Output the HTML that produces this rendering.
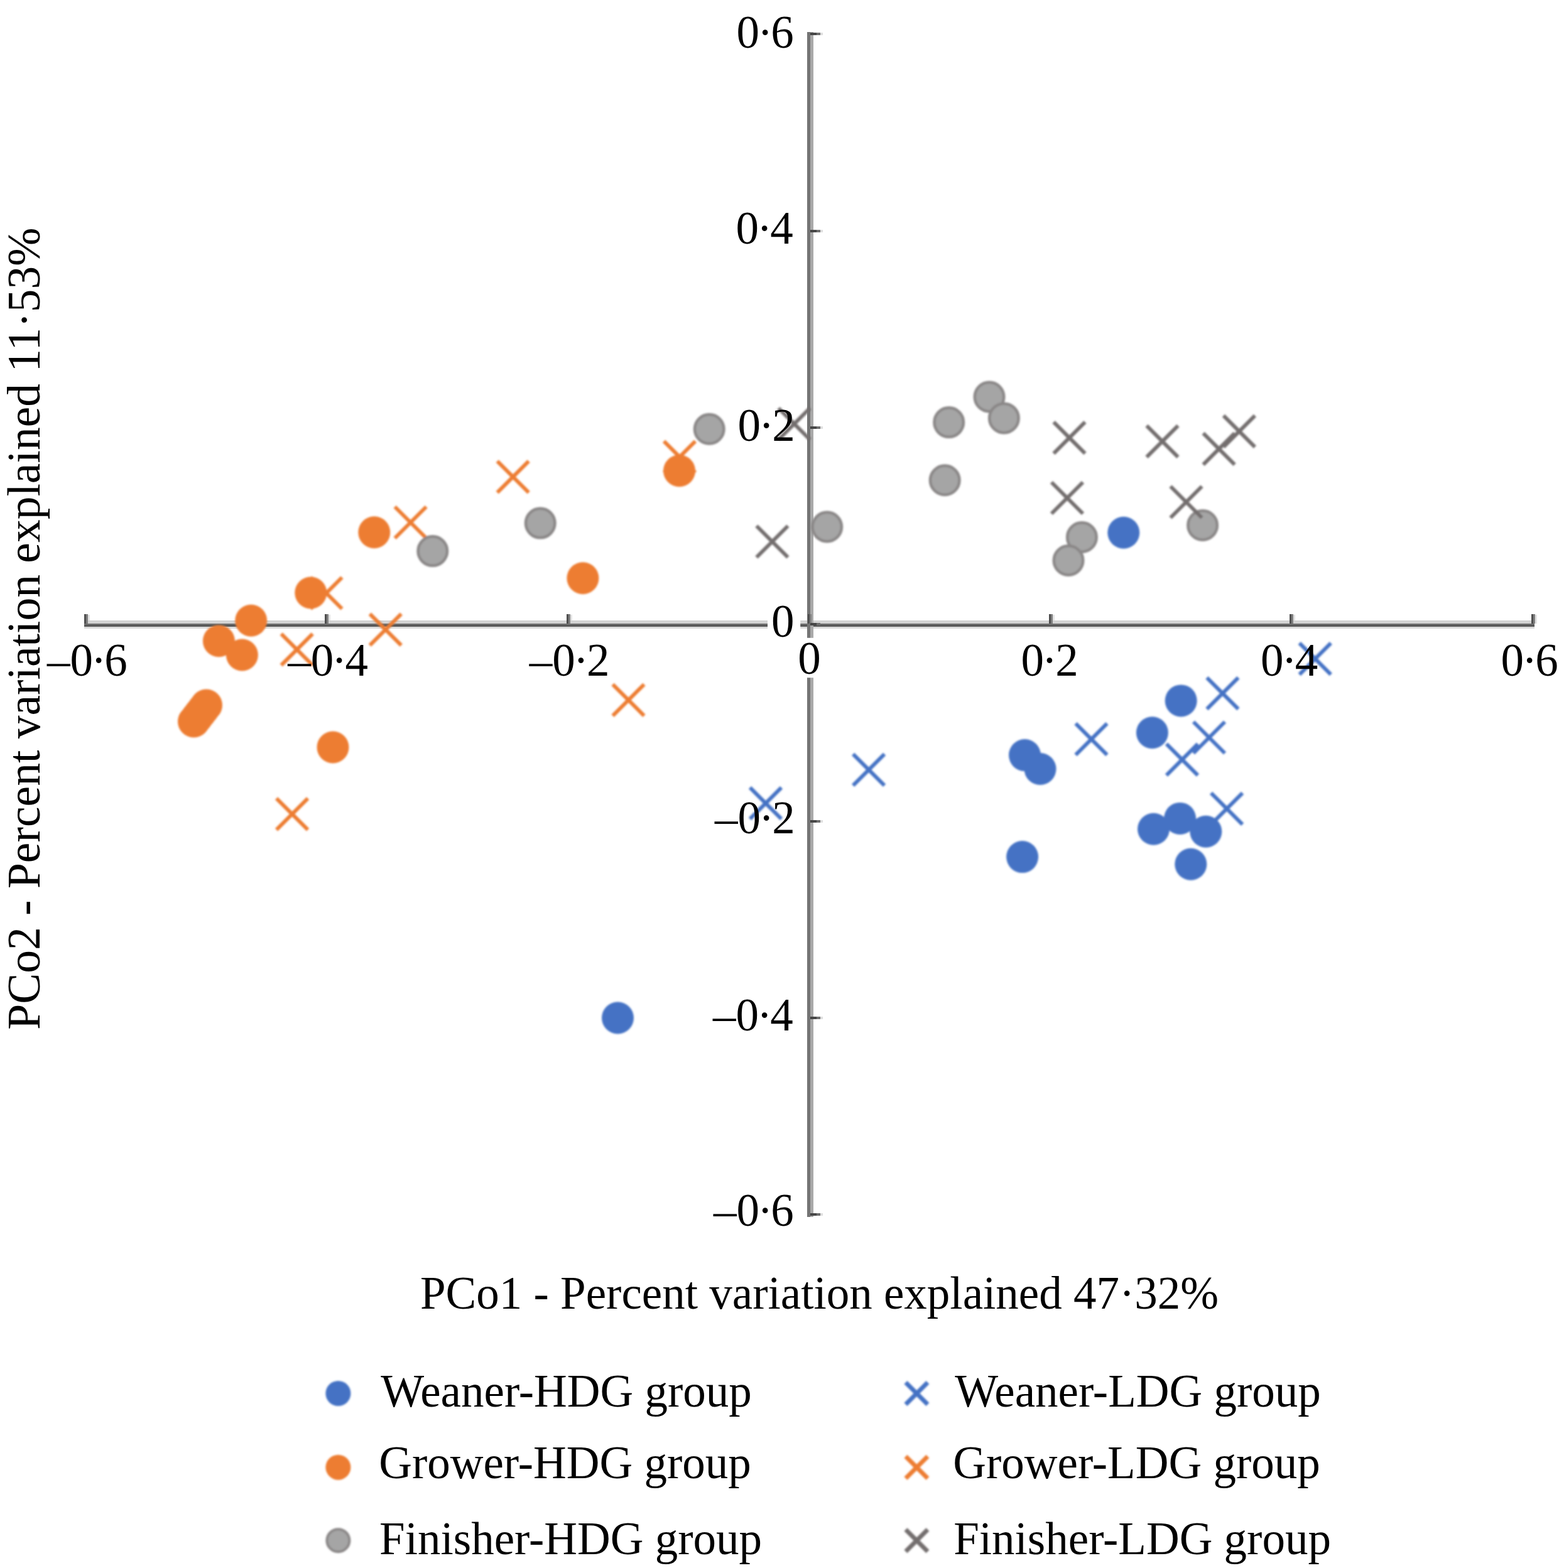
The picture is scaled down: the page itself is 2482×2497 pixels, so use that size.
<!DOCTYPE html>
<html><head><meta charset="utf-8"><title>PCoA plot</title>
<style>
html,body{margin:0;padding:0;background:#fff;}
svg{display:block;}
text{font-family:"Liberation Serif","Times New Roman",serif;fill:#000;}
</style></head>
<body>
<svg width="2482" height="2497" viewBox="0 0 2482 2497">
<defs><filter id="bl" x="-5%" y="-5%" width="110%" height="110%"><feGaussianBlur stdDeviation="1.5"/></filter></defs>
<rect width="2482" height="2497" fill="#fff"/>
<g id="axes"><rect x="140" y="979" width="3" height="14" fill="#e4e4e4"/><rect x="523" y="979" width="3" height="14" fill="#e4e4e4"/><rect x="908" y="979" width="3" height="14" fill="#e4e4e4"/><rect x="1292" y="979" width="3" height="14" fill="#e4e4e4"/><rect x="1676" y="979" width="3" height="14" fill="#e4e4e4"/><rect x="2059" y="979" width="3" height="14" fill="#e4e4e4"/><rect x="2444" y="979" width="3" height="14" fill="#e4e4e4"/><rect x="1306" y="52" width="4" height="4" fill="#dedede"/><rect x="1306" y="366" width="4" height="4" fill="#dedede"/><rect x="1306" y="679" width="4" height="4" fill="#dedede"/><rect x="1306" y="992" width="4" height="4" fill="#dedede"/><rect x="1306" y="1306" width="4" height="4" fill="#dedede"/><rect x="1306" y="1619" width="4" height="4" fill="#dedede"/><rect x="1306" y="1932" width="4" height="4" fill="#dedede"/><rect x="134" y="988" width="2309" height="5" fill="#d3d3d3"/><rect x="134" y="993" width="2309" height="2" fill="#717171"/><rect x="134" y="995" width="2309" height="3" fill="#575757"/><rect x="134" y="998" width="2309" height="3" fill="#dadada"/><rect x="1285" y="51" width="5" height="1887" fill="#747474"/><rect x="1290" y="51" width="5" height="1887" fill="#a9a9a9"/><rect x="134" y="978" width="3" height="15" fill="#4f4f4f"/><rect x="137" y="978" width="3" height="15" fill="#808080"/><rect x="517" y="978" width="3" height="15" fill="#4f4f4f"/><rect x="520" y="978" width="3" height="15" fill="#808080"/><rect x="902" y="978" width="3" height="15" fill="#4f4f4f"/><rect x="905" y="978" width="3" height="15" fill="#808080"/><rect x="1286" y="978" width="3" height="15" fill="#4f4f4f"/><rect x="1289" y="978" width="3" height="15" fill="#808080"/><rect x="1670" y="978" width="3" height="15" fill="#4f4f4f"/><rect x="1673" y="978" width="3" height="15" fill="#808080"/><rect x="2053" y="978" width="3" height="15" fill="#4f4f4f"/><rect x="2056" y="978" width="3" height="15" fill="#808080"/><rect x="2438" y="978" width="3" height="15" fill="#4f4f4f"/><rect x="2441" y="978" width="3" height="15" fill="#808080"/><rect x="1290" y="52" width="10" height="4" fill="#464646"/><rect x="1300" y="52" width="6" height="4" fill="#6e6e6e"/><rect x="1290" y="366" width="10" height="4" fill="#464646"/><rect x="1300" y="366" width="6" height="4" fill="#6e6e6e"/><rect x="1290" y="679" width="10" height="4" fill="#464646"/><rect x="1300" y="679" width="6" height="4" fill="#6e6e6e"/><rect x="1290" y="992" width="10" height="4" fill="#464646"/><rect x="1300" y="992" width="6" height="4" fill="#6e6e6e"/><rect x="1290" y="1306" width="10" height="4" fill="#464646"/><rect x="1300" y="1306" width="6" height="4" fill="#6e6e6e"/><rect x="1290" y="1619" width="10" height="4" fill="#464646"/><rect x="1300" y="1619" width="6" height="4" fill="#6e6e6e"/><rect x="1290" y="1932" width="10" height="4" fill="#464646"/><rect x="1300" y="1932" width="6" height="4" fill="#6e6e6e"/></g>
<g id="marks" filter="url(#bl)"><path d="M1194.0 1254.2L1244.0 1304.2M1194.0 1304.2L1244.0 1254.2" stroke="#4472c4" stroke-width="6.0" fill="none"/><path d="M1358.1 1200.8L1408.1 1250.8M1358.1 1250.8L1408.1 1200.8" stroke="#4472c4" stroke-width="6.0" fill="none"/><path d="M1712.5 1152.1L1762.5 1202.1M1712.5 1202.1L1762.5 1152.1" stroke="#4472c4" stroke-width="6.0" fill="none"/><path d="M1857.0 1184.6L1907.0 1234.6M1857.0 1234.6L1907.0 1184.6" stroke="#4472c4" stroke-width="6.0" fill="none"/><path d="M1900.0 1149.5L1950.0 1199.5M1900.0 1199.5L1950.0 1149.5" stroke="#4472c4" stroke-width="6.0" fill="none"/><path d="M1921.4 1079.2L1971.4 1129.2M1921.4 1129.2L1971.4 1079.2" stroke="#4472c4" stroke-width="6.0" fill="none"/><path d="M1928.1 1262.8L1978.1 1312.8M1928.1 1312.8L1978.1 1262.8" stroke="#4472c4" stroke-width="6.0" fill="none"/><path d="M2068.8 1024.2L2118.8 1074.2M2068.8 1074.2L2118.8 1024.2" stroke="#4472c4" stroke-width="6.0" fill="none"/><path d="M628.6 807.0L678.6 857.0M628.6 857.0L678.6 807.0" stroke="#ed7d31" stroke-width="6.0" fill="none"/><path d="M494.5 919.5L544.5 969.5M494.5 969.5L544.5 919.5" stroke="#ed7d31" stroke-width="6.0" fill="none"/><path d="M588.8 977.6L638.8 1027.6M588.8 1027.6L638.8 977.6" stroke="#ed7d31" stroke-width="6.0" fill="none"/><path d="M447.7 1009.4L497.7 1059.4M447.7 1059.4L497.7 1009.4" stroke="#ed7d31" stroke-width="6.0" fill="none"/><path d="M440.1 1271.4L490.1 1321.4M440.1 1321.4L490.1 1271.4" stroke="#ed7d31" stroke-width="6.0" fill="none"/><path d="M791.7 734.4L841.7 784.4M791.7 784.4L841.7 734.4" stroke="#ed7d31" stroke-width="6.0" fill="none"/><path d="M1057.0 702.6L1107.0 752.6M1057.0 752.6L1107.0 702.6" stroke="#ed7d31" stroke-width="6.0" fill="none"/><path d="M975.5 1089.8L1025.5 1139.8M975.5 1139.8L1025.5 1089.8" stroke="#ed7d31" stroke-width="6.0" fill="none"/><circle cx="983.5" cy="1621.0" r="25.5" fill="#4472c4"/><circle cx="1631.5" cy="1202.6" r="25.5" fill="#4472c4"/><circle cx="1656.0" cy="1224.5" r="25.5" fill="#4472c4"/><circle cx="1627.6" cy="1364.6" r="25.5" fill="#4472c4"/><circle cx="1834.4" cy="1166.7" r="25.5" fill="#4472c4"/><circle cx="1880.2" cy="1115.9" r="25.5" fill="#4472c4"/><circle cx="1836.5" cy="1320.3" r="25.5" fill="#4472c4"/><circle cx="1878.6" cy="1303.4" r="25.5" fill="#4472c4"/><circle cx="1919.8" cy="1324.2" r="25.5" fill="#4472c4"/><circle cx="1895.8" cy="1376.3" r="25.5" fill="#4472c4"/><circle cx="1788.8" cy="848.2" r="25.5" fill="#4472c4"/><circle cx="595.8" cy="847.7" r="25.5" fill="#ed7d31"/><circle cx="494.8" cy="944.0" r="25.5" fill="#ed7d31"/><circle cx="399.7" cy="988.3" r="25.5" fill="#ed7d31"/><circle cx="348.4" cy="1020.8" r="25.5" fill="#ed7d31"/><circle cx="385.4" cy="1043.0" r="25.5" fill="#ed7d31"/><circle cx="328.5" cy="1123.0" r="25.5" fill="#ed7d31"/><circle cx="323.5" cy="1129.5" r="25.5" fill="#ed7d31"/><circle cx="318.5" cy="1136.0" r="25.5" fill="#ed7d31"/><circle cx="313.5" cy="1142.5" r="25.5" fill="#ed7d31"/><circle cx="308.5" cy="1149.0" r="25.5" fill="#ed7d31"/><circle cx="530.0" cy="1190.0" r="25.5" fill="#ed7d31"/><circle cx="927.9" cy="920.8" r="25.5" fill="#ed7d31"/><circle cx="1081.5" cy="749.7" r="25.5" fill="#ed7d31"/><circle cx="688.8" cy="877.6" r="23.25" fill="#a5a5a5" stroke="#8a8787" stroke-width="4.5"/><circle cx="860.2" cy="833.1" r="23.25" fill="#a5a5a5" stroke="#8a8787" stroke-width="4.5"/><circle cx="1129.2" cy="683.3" r="23.25" fill="#a5a5a5" stroke="#8a8787" stroke-width="4.5"/><circle cx="1316.7" cy="839.0" r="23.25" fill="#a5a5a5" stroke="#8a8787" stroke-width="4.5"/><circle cx="1510.7" cy="672.6" r="23.25" fill="#a5a5a5" stroke="#8a8787" stroke-width="4.5"/><circle cx="1575.0" cy="632.0" r="23.25" fill="#a5a5a5" stroke="#8a8787" stroke-width="4.5"/><circle cx="1598.4" cy="665.9" r="23.25" fill="#a5a5a5" stroke="#8a8787" stroke-width="4.5"/><circle cx="1504.2" cy="764.8" r="23.25" fill="#a5a5a5" stroke="#8a8787" stroke-width="4.5"/><circle cx="1722.4" cy="855.5" r="23.25" fill="#a5a5a5" stroke="#8a8787" stroke-width="4.5"/><circle cx="1701.0" cy="892.5" r="23.25" fill="#a5a5a5" stroke="#8a8787" stroke-width="4.5"/><circle cx="1914.6" cy="836.5" r="23.25" fill="#a5a5a5" stroke="#8a8787" stroke-width="4.5"/><path d="M1239.4 650.0L1289.4 700.0M1239.4 700.0L1289.4 650.0" stroke="#736e6e" stroke-width="6.0" fill="none"/><path d="M1204.4 837.5L1254.4 887.5M1204.4 887.5L1254.4 837.5" stroke="#736e6e" stroke-width="6.0" fill="none"/><path d="M1677.5 672.2L1727.5 722.2M1677.5 722.2L1727.5 672.2" stroke="#736e6e" stroke-width="6.0" fill="none"/><path d="M1825.5 677.9L1875.5 727.9M1825.5 727.9L1875.5 677.9" stroke="#736e6e" stroke-width="6.0" fill="none"/><path d="M1915.6 689.9L1965.6 739.9M1915.6 739.9L1965.6 689.9" stroke="#736e6e" stroke-width="6.0" fill="none"/><path d="M1947.9 661.8L1997.9 711.8M1947.9 711.8L1997.9 661.8" stroke="#736e6e" stroke-width="6.0" fill="none"/><path d="M1674.0 768.0L1724.0 818.0M1674.0 818.0L1724.0 768.0" stroke="#736e6e" stroke-width="6.0" fill="none"/><path d="M1863.5 774.5L1913.5 824.5M1863.5 824.5L1913.5 774.5" stroke="#736e6e" stroke-width="6.0" fill="none"/></g>
<g id="zero-boxes"><rect x="1222" y="975" width="52.2" height="32" fill="#fff"/><rect x="1280" y="1015.8" width="20" height="63.4" fill="#fff"/></g>
<g id="labels"><text x="74.96" y="1076.20" font-size="73.0">–0<tspan dx="-3.03">·</tspan><tspan dx="-3.03">6</tspan></text><text x="458.14" y="1076.20" font-size="73.0">–0<tspan dx="-3.03">·</tspan><tspan dx="-3.03">4</tspan></text><text x="842.79" y="1076.20" font-size="73.0">–0<tspan dx="-3.03">·</tspan><tspan dx="-3.03">2</tspan></text><text x="1625.40" y="1076.20" font-size="73.0">0<tspan dx="-3.03">·</tspan><tspan dx="-3.03">2</tspan></text><text x="2007.06" y="1076.20" font-size="73.0">0<tspan dx="-3.03">·</tspan><tspan dx="-3.03">4</tspan></text><text x="2389.57" y="1076.20" font-size="73.0">0<tspan dx="-3.03">·</tspan><tspan dx="-3.03">6</tspan></text><text x="1270.15" y="1073.00" font-size="73.0">0</text><text x="1172.62" y="76.00" font-size="73.0">0<tspan dx="-3.03">·</tspan><tspan dx="-3.03">6</tspan></text><text x="1171.59" y="388.30" font-size="73.0">0<tspan dx="-3.03">·</tspan><tspan dx="-3.03">4</tspan></text><text x="1174.48" y="701.60" font-size="73.0">0<tspan dx="-3.03">·</tspan><tspan dx="-3.03">2</tspan></text><text x="1227.98" y="1014.00" font-size="73.0">0</text><text x="1137.98" y="1327.00" font-size="73.0">–0<tspan dx="-3.03">·</tspan><tspan dx="-3.03">2</tspan></text><text x="1135.09" y="1640.90" font-size="73.0">–0<tspan dx="-3.03">·</tspan><tspan dx="-3.03">4</tspan></text><text x="1136.12" y="1951.80" font-size="73.0">–0<tspan dx="-3.03">·</tspan><tspan dx="-3.03">6</tspan></text><text x="669.00" y="2083.60" font-size="73.0">PCo1 - Percent variation explained 47·32%</text><g transform="translate(62.6 1637.6) rotate(-90)"><text x="-2.12" y="0.00" font-size="73.5">PCo2 - Percent variation explained 11·53%</text></g></g>
<g id="legend"><g filter="url(#bl)"><circle cx="538.4" cy="2219.0" r="20" fill="#4472c4"/><circle cx="538.4" cy="2336.7" r="20" fill="#ed7d31"/><circle cx="538.4" cy="2453.2" r="18.00" fill="#a5a5a5" stroke="#8a8787" stroke-width="4"/><path d="M1441.9 2201.5L1476.9 2236.5M1441.9 2236.5L1476.9 2201.5" stroke="#4472c4" stroke-width="7" fill="none"/><path d="M1441.9 2319.2L1476.9 2354.2M1441.9 2354.2L1476.9 2319.2" stroke="#ed7d31" stroke-width="7" fill="none"/><path d="M1441.9 2435.7L1476.9 2470.7M1441.9 2470.7L1476.9 2435.7" stroke="#736e6e" stroke-width="7" fill="none"/></g><text x="606.13" y="2239.70" font-size="73.0">Weaner-HDG group</text><text x="1520.23" y="2239.70" font-size="73.0">Weaner-LDG group</text><text x="603.21" y="2353.80" font-size="73.0">Grower-HDG group</text><text x="1517.31" y="2353.80" font-size="73.0">Grower-LDG group</text><text x="604.10" y="2474.80" font-size="73.0">Finisher-HDG group</text><text x="1518.20" y="2474.80" font-size="73.0">Finisher-LDG group</text></g>
</svg>
</body></html>
